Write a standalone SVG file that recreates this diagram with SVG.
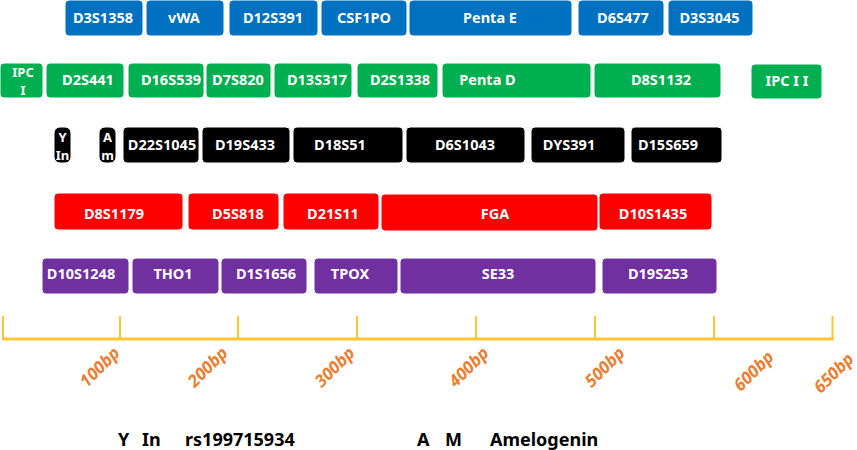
<svg xmlns="http://www.w3.org/2000/svg" width="857" height="450" viewBox="0 0 857 450">
<style>
rect{stroke:#fff;stroke-width:1}
.b rect{fill:#0070C0}.g rect{fill:#00B050}.k rect{fill:#000}.r rect{fill:#FF0000}.p rect{fill:#7030A0}
text.t{font-family:"Noto Sans","Open Sans",sans-serif;font-weight:bold;font-size:14.5px;fill:#fff;text-anchor:middle}
text.s{font-family:"Noto Sans","Open Sans",sans-serif;font-weight:bold;font-size:13px;fill:#fff;text-anchor:middle}
.ax line{stroke:#FFC532}
text.l{font-family:"Noto Sans","Open Sans",sans-serif;font-weight:bold;font-style:italic;font-size:17px;fill:#ED7D31;text-anchor:end}
text.leg{font-family:"Noto Sans","Open Sans",sans-serif;font-weight:bold;font-size:18px;fill:#000}
</style>
<g class="b">
<g id="D3S1358"><rect x="65" y="0" width="78" height="36" rx="4"/><text class="t" x="103" y="23">D3S1358</text></g>
<g id="vWA"><rect x="146" y="0" width="78" height="36" rx="4"/><text class="t" x="184" y="23">vWA</text></g>
<g id="D12S391"><rect x="229" y="0" width="89" height="36" rx="4"/><text class="t" x="273" y="23">D12S391</text></g>
<g id="CSF1PO"><rect x="321" y="0" width="86" height="36" rx="4"/><text class="t" x="364" y="23">CSF1PO</text></g>
<g id="PentaE"><rect x="409" y="0" width="163" height="36" rx="4"/><text class="t" x="490" y="23">Penta E</text></g>
<g id="D6S477"><rect x="578" y="0" width="86" height="36" rx="4"/><text class="t" x="623" y="23">D6S477</text></g>
<g id="D3S3045"><rect x="668" y="0" width="85" height="36" rx="4"/><text class="t" x="709.5" y="23">D3S3045</text></g>
</g>
<g class="g">
<g id="IPCI"><rect x="0" y="63" width="43" height="35" rx="4"/><text class="s" x="23" y="77">IPC</text><text class="s" x="23" y="95">I</text></g>
<g id="D2S441"><rect x="46" y="63" width="78" height="35" rx="4"/><text class="t" x="88" y="85">D2S441</text></g>
<g id="D16S539"><rect x="128" y="63" width="76" height="35" rx="4"/><text class="t" x="171" y="85">D16S539</text></g>
<g id="D7S820"><rect x="206" y="63" width="65" height="35" rx="4"/><text class="t" x="238" y="85">D7S820</text></g>
<g id="D13S317"><rect x="274" y="63" width="78" height="35" rx="4"/><text class="t" x="317" y="85">D13S317</text></g>
<g id="D2S1338"><rect x="357" y="63" width="81" height="35" rx="4"/><text class="t" x="400" y="85">D2S1338</text></g>
<g id="PentaD"><rect x="442" y="63" width="149" height="35" rx="4"/><text class="t" x="487.5" y="85">Penta D</text></g>
<g id="D8S1132"><rect x="594" y="63" width="127" height="35" rx="4"/><text class="t" x="661" y="85">D8S1132</text></g>
<g id="IPCII"><rect x="751" y="64" width="71" height="35" rx="4"/><text class="t" x="787" y="86" xml:space="preserve">IPC I I</text></g>
</g>
<g class="k">
<g id="YIn"><rect x="54" y="127" width="17" height="36" rx="6"/><text class="s" x="62.5" y="142">Y</text><text class="s" x="62.5" y="160">In</text></g>
<g id="Am"><rect x="99" y="127" width="17" height="36" rx="6"/><text class="s" x="107.5" y="142">A</text><text class="s" x="107.5" y="160">m</text></g>
<g id="D22S1045"><rect x="123" y="127" width="76" height="36" rx="4"/><text class="t" x="162" y="150">D22S1045</text></g>
<g id="D19S433"><rect x="202" y="127" width="88" height="36" rx="4"/><text class="t" x="245" y="150">D19S433</text></g>
<g id="D18S51"><rect x="293" y="127" width="110" height="36" rx="4"/><text class="t" x="340" y="150">D18S51</text></g>
<g id="D6S1043"><rect x="406" y="127" width="119" height="36" rx="4"/><text class="t" x="465" y="150">D6S1043</text></g>
<g id="DYS391"><rect x="531" y="127" width="94" height="36" rx="4"/><text class="t" x="569" y="150">DYS391</text></g>
<g id="D15S659"><rect x="631" y="127" width="91" height="36" rx="4"/><text class="t" x="668" y="150">D15S659</text></g>
</g>
<g class="r">
<g id="D8S1179"><rect x="54" y="193" width="129" height="37" rx="4"/><text class="t" x="114" y="219">D8S1179</text></g>
<g id="D5S818"><rect x="188" y="193" width="91" height="37" rx="4"/><text class="t" x="238" y="219">D5S818</text></g>
<g id="D21S11"><rect x="283" y="193" width="96" height="37" rx="4"/><text class="t" x="333" y="219">D21S11</text></g>
<g id="FGA"><rect x="381" y="194" width="217" height="37" rx="4"/><text class="t" x="495" y="219">FGA</text></g>
<g id="D10S1435"><rect x="599" y="193" width="113" height="37" rx="4"/><text class="t" x="653" y="219">D10S1435</text></g>
</g>
<g class="p">
<g id="D10S1248"><rect x="42" y="258" width="87" height="36" rx="4"/><text class="t" x="81" y="279">D10S1248</text></g>
<g id="THO1"><rect x="132" y="258" width="87" height="36" rx="4"/><text class="t" x="173" y="279">THO1</text></g>
<g id="D1S1656"><rect x="221" y="258" width="86" height="36" rx="4"/><text class="t" x="266" y="279">D1S1656</text></g>
<g id="TPOX"><rect x="314" y="258" width="84" height="36" rx="4"/><text class="t" x="350" y="279">TPOX</text></g>
<g id="SE33"><rect x="400" y="258" width="196" height="36" rx="4"/><text class="t" x="498" y="279">SE33</text></g>
<g id="D19S253"><rect x="602" y="258" width="115" height="36" rx="4"/><text class="t" x="658" y="279">D19S253</text></g>
</g>
<g id="axis" class="ax">
<line x1="2" y1="339" x2="834" y2="339" stroke-width="3"/>
<g stroke-width="2">
<line x1="3" y1="316" x2="3" y2="339"/>
<line x1="120" y1="316" x2="120" y2="339"/>
<line x1="238" y1="316" x2="238" y2="339"/>
<line x1="357" y1="316" x2="357" y2="339"/>
<line x1="476" y1="316" x2="476" y2="339"/>
<line x1="595" y1="316" x2="595" y2="339"/>
<line x1="714" y1="316" x2="714" y2="339"/>
<line x1="832.5" y1="316" x2="832.5" y2="339"/>
</g>
<text class="l" x="121" y="354" transform="rotate(-45 121 354)">100bp</text>
<text class="l" x="229" y="354" transform="rotate(-45 229 354)">200bp</text>
<text class="l" x="356" y="354" transform="rotate(-45 356 354)">300bp</text>
<text class="l" x="490" y="354" transform="rotate(-45 490 354)">400bp</text>
<text class="l" x="626" y="354" transform="rotate(-45 626 354)">500bp</text>
<text class="l" x="775" y="358" transform="rotate(-45 775 358)">600bp</text>
<text class="l" x="855" y="360" transform="rotate(-45 855 360)">650bp</text>
</g>
<g id="legend">
<text class="leg" x="118" y="446">Y</text>
<text class="leg" x="142" y="446">In</text>
<text class="leg" x="185" y="446">rs199715934</text>
<text class="leg" x="417" y="446">A</text>
<text class="leg" x="445" y="446">M</text>
<text class="leg" x="490" y="446">Amelogenin</text>
</g>
</svg>
